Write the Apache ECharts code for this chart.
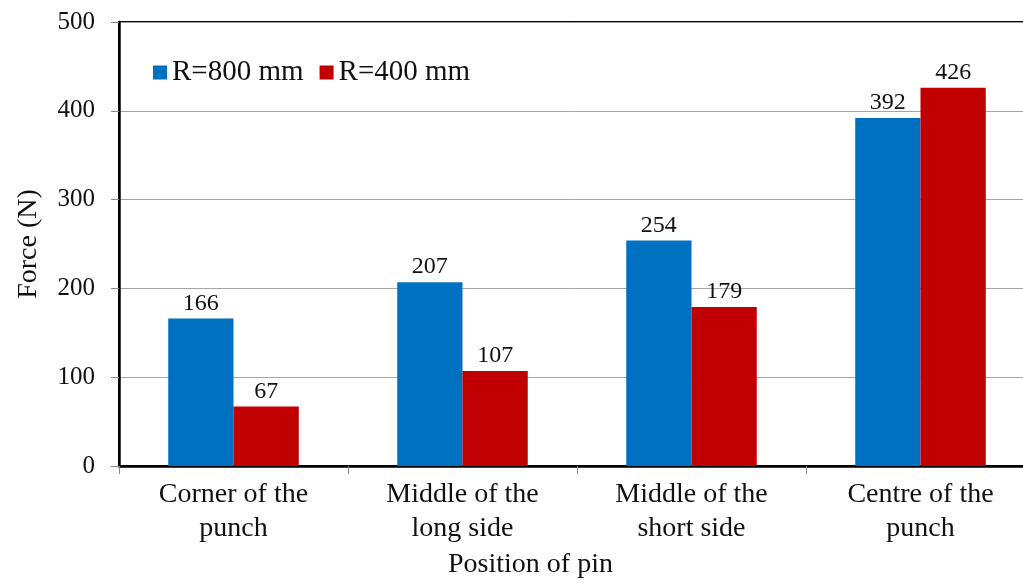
<!DOCTYPE html>
<html>
<head>
<meta charset="utf-8">
<script src="https://cdn.jsdelivr.net/npm/echarts@6/dist/echarts.min.js"></script>
<style>
  html, body { margin: 0; padding: 0; background: #fff; }
  #chart { width: 1023px; height: 583px; }
</style>
</head>
<body>
<div id="chart"></div>
<script>
// data
var categories = ['Corner of the\npunch', 'Middle of the\nlong side', 'Middle of the\nshort side', 'Centre of the\npunch'];
var r800 = [166, 207, 254, 392];
var r400 = [67, 107, 179, 426];
var yTicks = [0, 100, 200, 300, 400, 500];

var serif = 'Liberation Serif';
var chart = echarts.init(document.getElementById('chart'));

var option = {
  animation: false,
  textStyle: { fontFamily: serif },
  // plot runs past the right edge of the picture, as in the original
  grid: {
    left: 119, top: 22, right: -12, bottom: 117,
    outerBoundsMode: 'none',
    show: true, borderColor: '#000', borderWidth: 2
  },
  legend: {
    left: 148, top: 53,
    itemWidth: 14, itemHeight: 14, itemGap: 16,
    icon: 'rect',
    textStyle: { fontFamily: serif, fontSize: 29, color: '#111' },
    data: ['R=800 mm', 'R=400 mm']
  },
  xAxis: {
    type: 'category',
    data: categories,
    axisLine: { lineStyle: { color: '#000', width: 2.5 } },
    axisTick: { show: true, length: 8, lineStyle: { color: '#888' } },
    axisLabel: {
      fontFamily: serif, fontSize: 28, color: '#111',
      lineHeight: 34, margin: 12
    }
  },
  yAxis: {
    type: 'value',
    min: yTicks[0], max: yTicks[yTicks.length - 1], interval: 100,
    name: 'Force (N)',
    nameLocation: 'middle',
    nameGap: 76,
    nameTextStyle: { fontFamily: serif, fontSize: 28, color: '#111' },
    axisLine: { show: true, lineStyle: { color: '#000', width: 2.5 } },
    axisTick: { show: true, length: 8, lineStyle: { color: '#888' } },
    axisLabel: { fontFamily: serif, fontSize: 25, color: '#111', margin: 24 },
    splitLine: { show: true, lineStyle: { color: '#a6a6a6', width: 1 } }
  },
  graphic: [{
    type: 'text',
    left: 448, top: 551,
    style: { text: 'Position of pin', font: '28px "Liberation Serif"', fill: '#111' }
  }],
  series: [
    {
      name: 'R=800 mm', type: 'bar', data: r800,
      barGap: '0%', barCategoryGap: '43%',
      itemStyle: { color: '#0070C0' },
      label: { show: true, position: 'top', distance: 3, fontFamily: serif, fontSize: 24, color: '#111' }
    },
    {
      name: 'R=400 mm', type: 'bar', data: r400,
      barGap: '0%', barCategoryGap: '43%',
      itemStyle: { color: '#C00000' },
      label: { show: true, position: 'top', distance: 3, fontFamily: serif, fontSize: 24, color: '#111' }
    }
  ]
};
chart.setOption(option);
</script>
</body>
</html>
